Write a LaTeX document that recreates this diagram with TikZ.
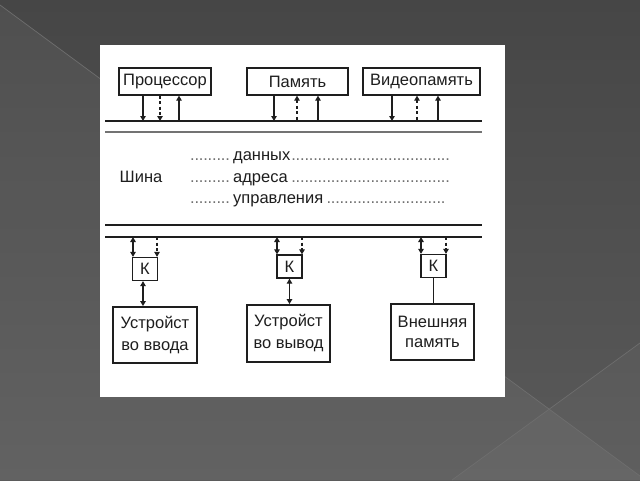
\documentclass[tikz,border=0pt]{standalone}
\usepackage{fontspec}
\setmainfont{Liberation Sans}
\usetikzlibrary{arrows.meta}
\definecolor{ink}{HTML}{1E1E1E}
\definecolor{dotc}{HTML}{707070}
\definecolor{bgline}{HTML}{6E6E6E}
\newcommand{\mydots}{\leaders\hbox to 4.4pt{\hss\textcolor{dotc}{.}\hss}}
\begin{document}
\begin{tikzpicture}[x=1pt,y=-1pt,
  txt/.style={font=\fontsize{16.5}{22}\selectfont, text=ink, inner sep=0pt},
  box/.style={draw=ink, line width=1.3pt, inner sep=0pt, fill=white, txt},
  devbox/.style={draw=ink, line width=1.9pt, inner sep=0pt, fill=white, txt, align=center},
  kbox/.style={draw=ink, line width=1.3pt, inner sep=0pt, fill=white, minimum width=25, minimum height=23, txt},
  bus/.style={draw=ink, line width=1.6pt},
  conn/.style={draw=ink, line width=1.2pt},
  dsh/.style={draw=ink, line width=1.2pt, dash pattern=on 3pt off 2.5pt},
  tip/.tip={Triangle[length=5pt,width=5.5pt]}
]
\useasboundingbox (0,0) rectangle (640,480);
% background
\shade[top color={rgb,255:red,70;green,70;blue,70}, bottom color={rgb,255:red,90;green,90;blue,90}] (0,0) rectangle (640,480);
\fill[white, opacity=0.05] (0,5) -- (640,476) -- (640,480) -- (0,480) -- cycle;
\fill[white, opacity=0.03] (640,343) -- (452,480) -- (640,480) -- cycle;
\draw[bgline, line width=0.7pt] (0,5) -- (640,476);
\draw[bgline, line width=0.7pt] (640,343) -- (452,480);
% white panel
\fill[white] (100,45) rectangle (505,397);

% top units
\node[box, minimum width=92, minimum height=27] (cpu) at (165,81.5) {Процессор};
\node[box, minimum width=101, minimum height=27] (mem) at (297.5,81.5) {Память};
\node[box, minimum width=117, minimum height=27] (vmem) at (421.5,81.5) {Видеопамять};

% bus lines
\coordinate (b1l) at (105,121); \coordinate (b1r) at (482,121);
\coordinate (b2l) at (105,132); \coordinate (b2r) at (482,132);
\coordinate (b3l) at (105,225); \coordinate (b3r) at (482,225);
\coordinate (b4l) at (105,237); \coordinate (b4r) at (482,237);
\draw[bus] (b1l) -- (b1r);
\draw[bus, draw=black!55] (b2l) -- (b2r);
\draw[bus] (b3l) -- (b3r);
\draw[bus] (b4l) -- (b4r);

% top connectors
\coordinate (c1) at (143,121); \coordinate (c2) at (160,121); \coordinate (c3) at (179,121);
\coordinate (m1) at (274,121); \coordinate (m2) at (297,121); \coordinate (m3) at (318,121);
\coordinate (v1) at (392,121); \coordinate (v2) at (417,121); \coordinate (v3) at (438,121);
\draw[conn, -tip] (cpu.south -| c1) -- (c1);
\draw[dsh, -tip] (cpu.south -| c2) -- (c2);
\draw[conn, tip-] (cpu.south -| c3) -- (c3);
\draw[conn, -tip] (mem.south -| m1) -- (m1);
\draw[dsh, tip-] (mem.south -| m2) -- (m2);
\draw[conn, tip-] (mem.south -| m3) -- (m3);
\draw[conn, -tip] (vmem.south -| v1) -- (v1);
\draw[dsh, tip-] (vmem.south -| v2) -- (v2);
\draw[conn, tip-] (vmem.south -| v3) -- (v3);

% bus labels
\node[txt] (shina) at (141,177) {Шина};
\node[txt, anchor=base west] (data) at (190,160) {\makebox[262pt][l]{\mydots\hskip 43pt данных\mydots\hfill}};
\node[txt, anchor=base west] (addr) at (190,182) {\makebox[260pt][l]{\mydots\hskip 43pt адреса\mydots\hfill}};
\node[txt, anchor=base west] (ctrl) at (190,203) {\makebox[258pt][l]{\mydots\hskip 43pt управления\mydots\hfill}};

% controllers
\node[kbox] (k1) at (145,269) {К};
\node[kbox] (k2) at (289.5,266.5) {К};
\node[kbox] (k3) at (433.5,266) {К};

\coordinate (k1a) at (133,237); \coordinate (k1b) at (157,237);
\coordinate (k2a) at (277,237); \coordinate (k2b) at (302,237);
\coordinate (k3a) at (421,237); \coordinate (k3b) at (446,237);
\draw[conn, tip-tip] (k1a) -- (k1.north -| k1a);
\draw[dsh, -tip] (k1b) -- (k1.north -| k1b);
\draw[conn, tip-tip] (k2a) -- (k2.north -| k2a);
\draw[dsh, -tip] (k2b) -- (k2.north -| k2b);
\draw[conn, tip-tip] (k3a) -- (k3.north -| k3a);
\draw[dsh, -tip] (k3b) -- (k3.north -| k3b);

% devices
\node[devbox, minimum width=84, minimum height=56] (d1) at (155,335) {Устройст\\во ввода};
\node[devbox, minimum width=83, minimum height=57] (d2) at (288.5,333.5) {Устройст\\во вывод};
\node[devbox, minimum width=83, minimum height=56, font=\fontsize{16.5}{20}\selectfont] (d3) at (432.5,332) {Внешняя\\память};

\coordinate (d1c) at (143,0);
\draw[conn, tip-tip] (k1.south -| d1c) -- (d1.north -| d1c);
\draw[conn, tip-tip] (k2.south) -- (d2.north -| k2.south);
\draw[conn, line width=1.3pt] (k3.south) -- (d3.north -| k3.south);
\end{tikzpicture}
\end{document}
